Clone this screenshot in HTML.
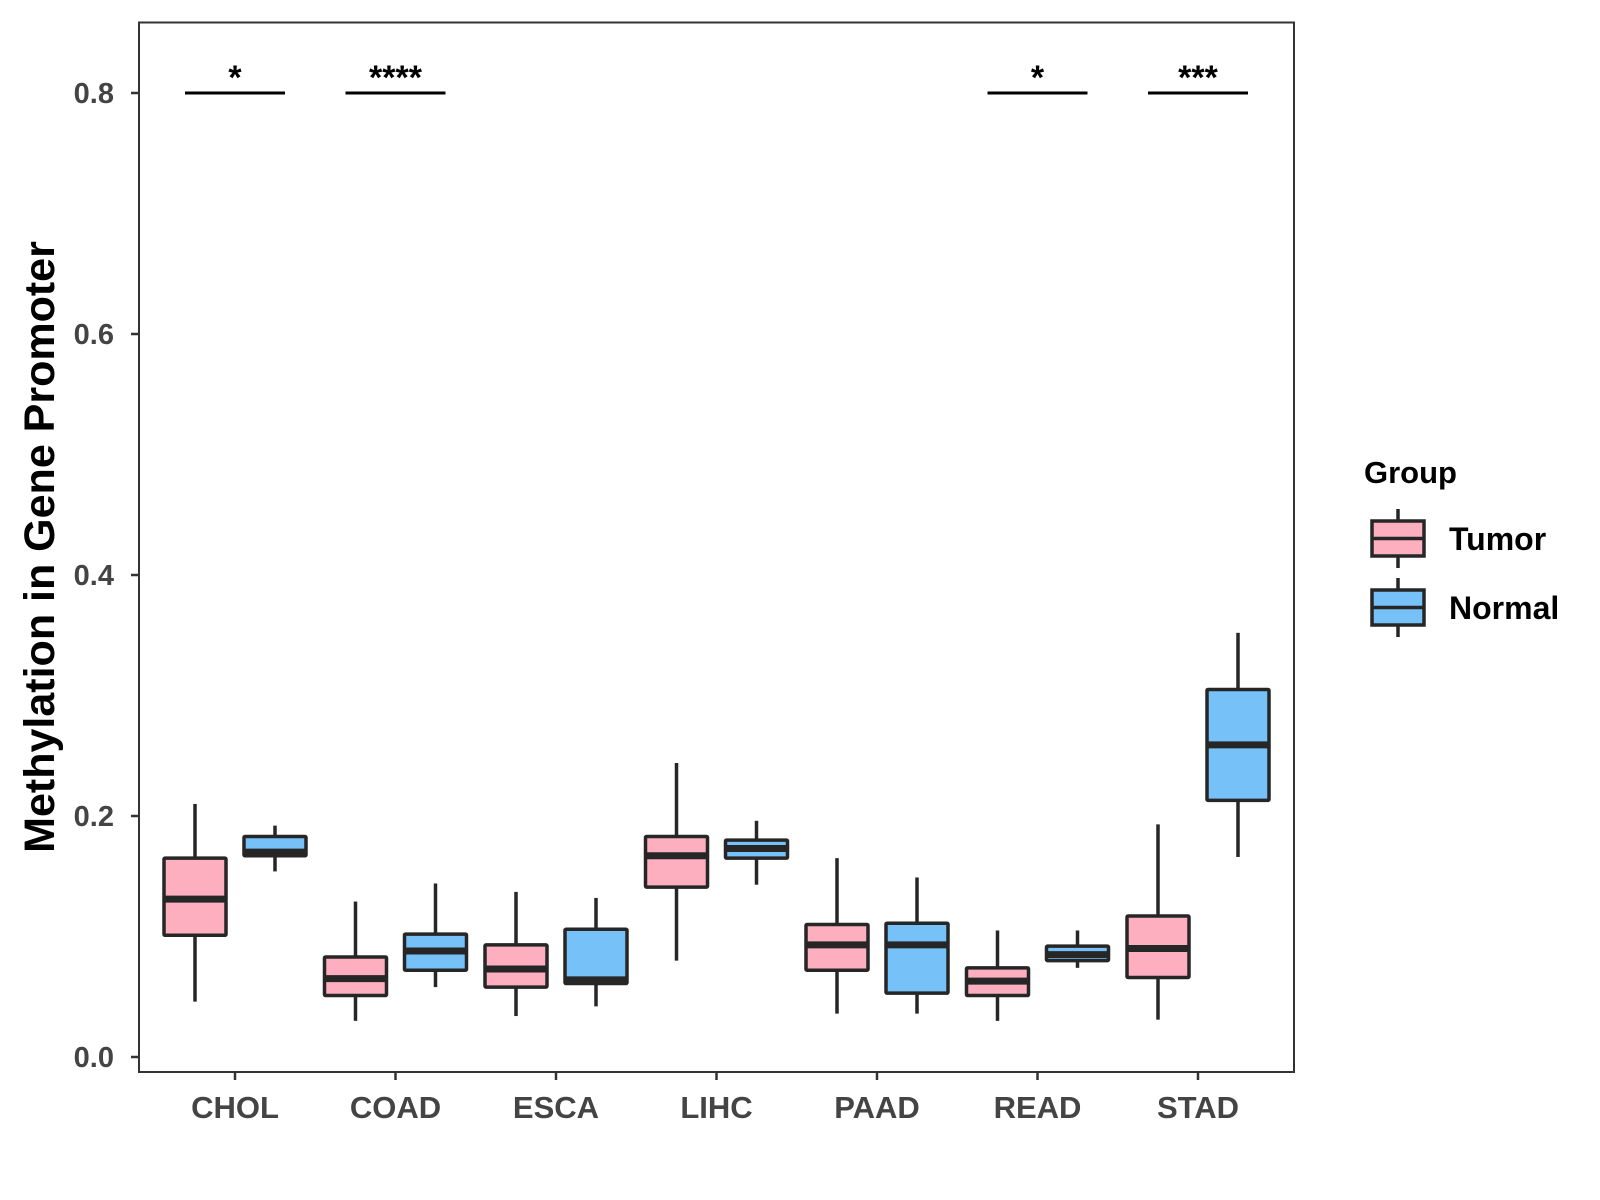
<!DOCTYPE html>
<html><head><meta charset="utf-8"><style>
body{margin:0;background:#fff}
svg{display:block;font-family:"Liberation Sans",Arial,sans-serif}
</style></head><body>
<svg id="chart" width="1600" height="1200" viewBox="0 0 1600 1200" xmlns="http://www.w3.org/2000/svg">
<rect width="1600" height="1200" fill="#fff"/>
<rect x="139" y="22.5" width="1155" height="1049.5" fill="none" stroke="#333" stroke-width="2"/>
<g id="marks"></g>
<text transform="translate(54,547) rotate(-90)" text-anchor="middle" font-size="43" font-weight="bold" fill="#000">Methylation in Gene Promoter</text>
<g>
<text x="1364" y="483" font-size="31" font-weight="bold" fill="#000">Group</text>
<g>
<line x1="1398" y1="509" x2="1398" y2="568" stroke="#262626" stroke-width="3.5"/>
<rect x="1372" y="521" width="52" height="35" fill="#FDAFC0" stroke="#262626" stroke-width="3.5"/>
<line x1="1372" y1="538.5" x2="1424" y2="538.5" stroke="#262626" stroke-width="3.5"/>
<text x="1449" y="550" font-size="32" font-weight="bold" fill="#000">Tumor</text>
</g>
<g>
<line x1="1398" y1="578" x2="1398" y2="637" stroke="#262626" stroke-width="3.5"/>
<rect x="1372" y="590" width="52" height="35" fill="#76C1F7" stroke="#262626" stroke-width="3.5"/>
<line x1="1372" y1="607.5" x2="1424" y2="607.5" stroke="#262626" stroke-width="3.5"/>
<text x="1449" y="619" font-size="32" font-weight="bold" fill="#000">Normal</text>
</g>
</g>
</svg>
<script>
const categories=["CHOL","COAD","ESCA","LIHC","PAAD","READ","STAD"];
const tumorLow=[0.046,0.030,0.034,0.080,0.036,0.030,0.031];
const tumorQ1=[0.101,0.051,0.058,0.141,0.072,0.051,0.066];
const tumorMed=[0.131,0.065,0.073,0.167,0.093,0.063,0.090];
const tumorQ3=[0.165,0.083,0.093,0.183,0.110,0.074,0.117];
const tumorHigh=[0.210,0.129,0.137,0.244,0.165,0.105,0.193];
const normalLow=[0.154,0.058,0.042,0.143,0.036,0.074,0.166];
const normalQ1=[0.167,0.072,0.061,0.165,0.053,0.080,0.213];
const normalMed=[0.170,0.088,0.064,0.173,0.093,0.085,0.259];
const normalQ3=[0.183,0.102,0.106,0.180,0.111,0.092,0.305];
const normalHigh=[0.192,0.144,0.132,0.196,0.149,0.105,0.352];
const yTicks=[0.0,0.2,0.4,0.6,0.8];
const yTickLabels=["0.0","0.2","0.4","0.6","0.8"];
const sigCategories=["CHOL","COAD","READ","STAD"];
const sigLabels=["*","****","*","***"];
const sigLevel=0.8;

const NS="http://www.w3.org/2000/svg";
const g=document.getElementById('marks');
const y=v=>1057-v*1205;
const x=i=>235+i*160.5;
function el(t,a){const e=document.createElementNS(NS,t);for(const k in a)e.setAttribute(k,a[k]);g.appendChild(e);return e;}

yTicks.forEach((t,i)=>{
  const tk=el('line',{x1:131,x2:139,y1:y(t),y2:y(t),stroke:'#333','stroke-width':2.5});
  
  
  const tx=el('text',{x:114,y:y(t)+10,'text-anchor':'end','font-size':29,'font-weight':'bold',fill:'#444'});
  
  
  tx.textContent=yTickLabels[i];
});
categories.forEach((c,i)=>{
  const tk=el('line',{x1:x(i),x2:x(i),y1:1072,y2:1080,stroke:'#333','stroke-width':2.5});
  
  
  const tx=el('text',{x:x(i),y:1118,'text-anchor':'middle','font-size':31,'font-weight':'bold',fill:'#444'});
  
  
  tx.textContent=c;
});
function box(cx,lo,q1,md,q3,hi,fill,name){
  const w=62;
  const a=el('line',{x1:cx,x2:cx,y1:y(hi),y2:y(q3),stroke:'#262626','stroke-width':3.5});
  
  
  const b=el('line',{x1:cx,x2:cx,y1:y(q1),y2:y(lo),stroke:'#262626','stroke-width':3.5});
  
  
  const r=el('rect',{x:cx-w/2,y:y(q3),width:w,height:y(q1)-y(q3),fill:fill,stroke:'#262626','stroke-width':3.5,rx:1});
  
  
  const m=el('line',{x1:cx-w/2,x2:cx+w/2,y1:y(md),y2:y(md),stroke:'#262626','stroke-width':7});
  
  
}
categories.forEach((c,i)=>{
  box(x(i)-40,tumorLow[i],tumorQ1[i],tumorMed[i],tumorQ3[i],tumorHigh[i],'#FDAFC0',c.toLowerCase()+'-tumor');
  box(x(i)+40,normalLow[i],normalQ1[i],normalMed[i],normalQ3[i],normalHigh[i],'#76C1F7',c.toLowerCase()+'-normal');
});
sigCategories.forEach((c,k)=>{
  const i=categories.indexOf(c);
  const l=el('line',{x1:x(i)-50,x2:x(i)+50,y1:y(sigLevel),y2:y(sigLevel),stroke:'#000','stroke-width':3});
  
  
  const t=el('text',{x:x(i),y:y(sigLevel)-4,'text-anchor':'middle','font-size':34,'font-weight':'bold',fill:'#000'});
  
  
  t.textContent=sigLabels[k];
});
</script>
</body></html>
